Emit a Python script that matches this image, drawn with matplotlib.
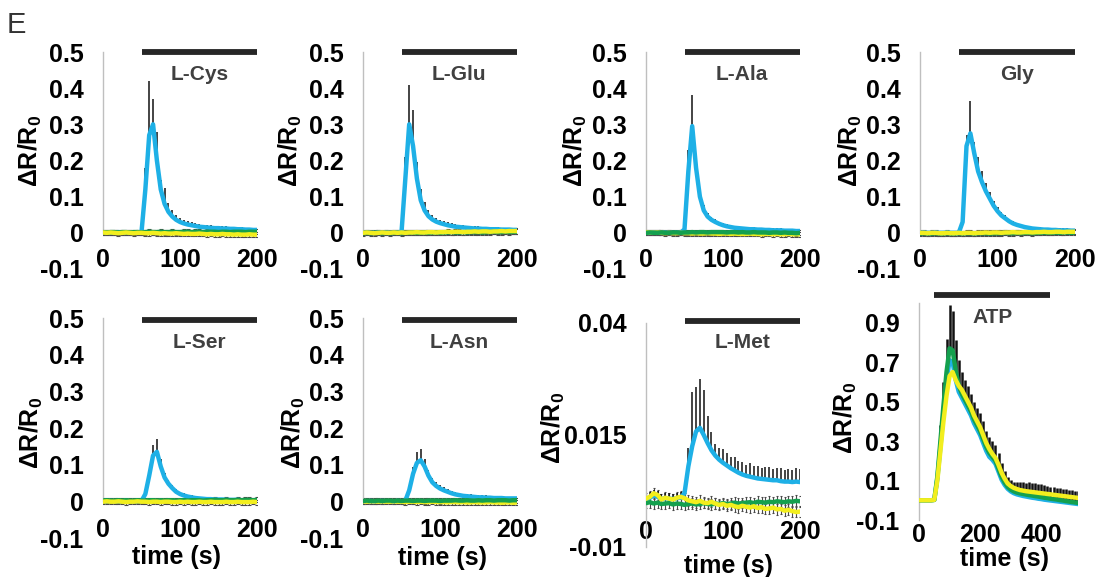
import numpy as np
import matplotlib
matplotlib.use("Agg")
import matplotlib.pyplot as plt

plt.rcParams['font.family'] = ['Liberation Sans', 'DejaVu Sans']
plt.rcParams['mathtext.fontset'] = 'custom'
plt.rcParams['mathtext.rm'] = 'Liberation Sans:bold'
plt.rcParams['mathtext.bf'] = 'Liberation Sans:bold'
plt.rcParams['mathtext.it'] = 'Liberation Sans:bold'
plt.rcParams['mathtext.default'] = 'bf'

# ---------------- data ----------------
T200 = np.arange(0, 201, 5)      # time (s), 200-s recordings
T_ATP = np.arange(0, 521, 10)    # time (s), ATP recording

CYS_B = [0.001,0.001,0.000,0.001,0.002,0.001,0.001,0.000,0.001,0.001,
         0.002,0.120,0.270,0.300,0.200,0.120,0.080,0.058,0.045,0.036,
         0.030,0.026,0.023,0.021,0.019,0.017,0.016,0.015,0.014,0.013,
         0.013,0.012,0.012,0.011,0.011,0.010,0.010,0.009,0.009,0.008,0.008]
CYS_E = [0.004,0.004,0.004,0.004,0.004,0.004,0.004,0.004,0.004,0.004,
         0.004,0.060,0.150,0.070,0.080,0.025,0.045,0.025,0.018,0.014,
         0.012,0.010,0.009,0.009,0.008,0.008,0.007,0.007,0.007,0.006,
         0.006,0.006,0.006,0.006,0.006,0.005,0.005,0.005,0.005,0.005,0.005]
CYS_Y = [0.001,0.000,0.001,0.000,-0.001,0.000,0.001,0.000,-0.001,0.000,
         0.000,-0.001,-0.001,0.000,-0.001,-0.002,-0.001,-0.002,-0.002,-0.001,
         -0.002,-0.003,-0.002,-0.003,-0.003,-0.002,-0.003,-0.004,-0.003,-0.004,
         -0.004,-0.003,-0.004,-0.004,-0.005,-0.004,-0.005,-0.005,-0.004,-0.005,-0.005]
CYS_G = [0.002,0.001,0.002,0.002,0.001,0.002,0.002,0.001,0.002,0.002,
         0.001,0.002,0.003,0.002,0.002,0.003,0.002,0.002,0.003,0.002,
         0.002,0.003,0.003,0.002,0.003,0.003,0.002,0.003,0.003,0.003,
         0.002,0.003,0.003,0.002,0.003,0.003,0.003,0.002,0.003,0.003,0.003]

GLU_B = [0.000,0.001,0.000,0.000,0.001,0.000,0.001,0.000,0.000,0.001,
         0.001,0.150,0.300,0.240,0.150,0.090,0.062,0.046,0.037,0.031,
         0.027,0.024,0.021,0.019,0.017,0.016,0.015,0.014,0.013,0.012,
         0.012,0.011,0.011,0.010,0.010,0.010,0.009,0.009,0.009,0.008,0.008]
GLU_E = [0.004,0.004,0.004,0.004,0.004,0.004,0.004,0.004,0.004,0.004,
         0.004,0.060,0.110,0.100,0.045,0.030,0.022,0.016,0.012,0.010,
         0.009,0.008,0.008,0.007,0.007,0.007,0.006,0.006,0.006,0.006,
         0.006,0.005,0.005,0.005,0.005,0.005,0.005,0.005,0.005,0.005,0.005]
GLU_Y = [0.000,0.001,0.000,-0.001,0.000,0.001,0.000,0.000,0.001,0.000,
         0.001,0.000,0.001,0.001,0.002,0.001,0.001,0.002,0.002,0.001,
         0.002,0.002,0.003,0.002,0.003,0.003,0.002,0.003,0.003,0.004,
         0.003,0.004,0.004,0.003,0.004,0.004,0.005,0.004,0.005,0.005,0.005]
GLU_G = [-0.001,0.000,-0.001,0.000,0.000,-0.001,0.000,-0.001,0.000,0.000,
         -0.001,0.000,0.000,0.001,0.000,0.000,0.001,0.000,0.001,0.001,
         0.000,0.001,0.001,0.002,0.001,0.001,0.002,0.001,0.002,0.002,
         0.002,0.001,0.002,0.002,0.003,0.002,0.002,0.003,0.002,0.003,0.003]

ALA_B = [0.000,0.000,0.001,0.000,0.000,0.001,0.000,0.000,0.001,0.000,
         0.010,0.170,0.295,0.180,0.100,0.062,0.045,0.036,0.030,0.025,
         0.021,0.018,0.016,0.014,0.013,0.012,0.011,0.010,0.010,0.009,
         0.009,0.008,0.008,0.007,0.007,0.007,0.006,0.006,0.006,0.005,0.005]
ALA_E = [0.004,0.004,0.004,0.004,0.004,0.004,0.004,0.004,0.004,0.004,
         0.006,0.060,0.085,0.030,0.020,0.014,0.010,0.008,0.007,0.006,
         0.006,0.006,0.006,0.005,0.005,0.005,0.005,0.005,0.005,0.005,
         0.005,0.005,0.005,0.005,0.005,0.005,0.005,0.005,0.005,0.005,0.005]
ALA_Y = [0.002,0.001,0.000,0.001,0.000,-0.001,0.000,-0.001,-0.001,0.000,
         -0.001,-0.001,-0.002,-0.001,-0.002,-0.002,-0.001,-0.002,-0.002,-0.003,
         -0.002,-0.002,-0.003,-0.002,-0.003,-0.003,-0.003,-0.002,-0.003,-0.003,
         -0.004,-0.003,-0.003,-0.004,-0.003,-0.004,-0.004,-0.003,-0.004,-0.004,-0.004]
ALA_G = [0.000,0.001,0.000,0.000,0.001,0.000,0.000,0.001,0.001,0.000,
         0.001,0.001,0.002,0.001,0.002,0.002,0.001,0.002,0.002,0.002,
         0.002,0.001,0.002,0.002,0.001,0.002,0.001,0.001,0.002,0.001,
         0.001,0.001,0.000,0.001,0.001,0.000,0.001,0.000,0.000,-0.001,0.000]

GLY_B = [0.000,0.001,0.000,0.000,0.001,0.000,0.000,0.001,0.000,0.000,
         0.000,0.030,0.240,0.275,0.220,0.170,0.140,0.115,0.095,0.075,
         0.060,0.048,0.040,0.032,0.026,0.022,0.019,0.016,0.014,0.012,
         0.011,0.010,0.009,0.009,0.008,0.008,0.007,0.007,0.007,0.006,0.006]
GLY_E = [0.004,0.004,0.004,0.004,0.004,0.004,0.004,0.004,0.004,0.004,
         0.004,0.020,0.030,0.090,0.030,0.040,0.030,0.022,0.017,0.013,
         0.011,0.009,0.008,0.007,0.007,0.006,0.006,0.006,0.005,0.005,
         0.005,0.005,0.005,0.005,0.005,0.005,0.005,0.005,0.005,0.005,0.005]
GLY_Y = [0.000,0.000,-0.001,0.000,0.000,-0.001,-0.001,0.000,-0.001,-0.001,
         0.000,-0.001,0.000,0.000,-0.001,0.000,0.000,0.001,0.000,0.001,
         0.001,0.000,0.001,0.001,0.002,0.001,0.001,0.002,0.002,0.001,
         0.002,0.002,0.003,0.002,0.002,0.003,0.003,0.002,0.003,0.003,0.003]
GLY_G = [-0.002,-0.001,-0.002,-0.002,-0.001,-0.002,-0.002,-0.001,-0.002,-0.002,
         -0.001,-0.002,-0.001,-0.001,-0.002,-0.001,-0.001,-0.001,-0.002,-0.001,
         -0.001,-0.001,0.000,-0.001,-0.001,0.000,-0.001,0.000,0.000,-0.001,
         0.000,0.000,0.001,0.000,0.000,0.001,0.000,0.001,0.001,0.000,0.001]

SER_B = [0.000,0.000,0.001,0.000,0.000,0.000,0.001,0.000,0.000,0.000,
         0.001,0.020,0.070,0.125,0.135,0.095,0.065,0.048,0.036,0.026,
         0.020,0.016,0.013,0.011,0.009,0.008,0.007,0.006,0.006,0.005,
         0.005,0.005,0.004,0.004,0.004,0.004,0.003,0.003,0.003,0.003,0.003]
SER_E = [0.004,0.004,0.004,0.004,0.004,0.004,0.004,0.004,0.004,0.004,
         0.004,0.008,0.015,0.030,0.035,0.020,0.012,0.010,0.008,0.007,
         0.006,0.006,0.005,0.005,0.005,0.005,0.005,0.005,0.005,0.005,
         0.005,0.005,0.005,0.005,0.005,0.005,0.005,0.005,0.005,0.005,0.005]
SER_Y = [-0.001,0.000,-0.001,-0.001,0.000,-0.001,-0.002,-0.001,-0.001,0.000,
         -0.001,-0.001,-0.002,-0.001,-0.001,-0.002,-0.001,-0.001,-0.002,-0.002,
         -0.001,-0.002,-0.001,-0.002,-0.002,-0.001,-0.002,-0.002,-0.001,-0.002,
         -0.002,-0.002,-0.001,-0.002,-0.002,-0.001,-0.002,-0.002,-0.002,-0.001,-0.002]
SER_G = [0.002,0.003,0.002,0.002,0.003,0.002,0.003,0.002,0.002,0.003,
         0.002,0.002,0.003,0.003,0.002,0.003,0.002,0.003,0.003,0.002,
         0.003,0.003,0.002,0.003,0.003,0.003,0.002,0.003,0.003,0.004,
         0.003,0.003,0.004,0.003,0.003,0.004,0.003,0.004,0.004,0.003,0.004]

ASN_B = [0.000,0.000,0.001,0.000,0.000,0.001,0.000,0.000,0.000,0.001,
         0.000,0.002,0.030,0.075,0.105,0.112,0.095,0.070,0.052,0.042,
         0.035,0.030,0.026,0.022,0.019,0.017,0.015,0.014,0.013,0.012,
         0.011,0.011,0.010,0.010,0.009,0.009,0.009,0.008,0.008,0.008,0.008]
ASN_E = [0.004,0.004,0.004,0.004,0.004,0.004,0.004,0.004,0.004,0.004,
         0.004,0.005,0.012,0.020,0.030,0.030,0.020,0.015,0.012,0.010,
         0.009,0.008,0.008,0.007,0.007,0.007,0.006,0.006,0.006,0.006,
         0.006,0.006,0.006,0.005,0.005,0.005,0.005,0.005,0.005,0.005,0.005]
ASN_Y = [0.000,-0.001,0.000,0.000,-0.001,0.000,-0.001,-0.001,0.000,-0.001,
         -0.001,-0.002,-0.001,-0.001,-0.002,-0.001,-0.002,-0.002,-0.001,-0.002,
         -0.002,-0.002,-0.003,-0.002,-0.002,-0.003,-0.002,-0.003,-0.003,-0.002,
         -0.003,-0.003,-0.003,-0.002,-0.003,-0.003,-0.004,-0.003,-0.003,-0.004,-0.003]
ASN_G = [0.001,0.002,0.001,0.001,0.002,0.001,0.002,0.002,0.001,0.002,
         0.001,0.002,0.002,0.001,0.002,0.002,0.001,0.002,0.002,0.002,
         0.001,0.002,0.002,0.002,0.003,0.002,0.002,0.003,0.002,0.002,
         0.003,0.002,0.003,0.003,0.002,0.003,0.003,0.003,0.002,0.003,0.003]

MET_B = [0.0008,0.0010,0.0015,0.0012,0.0007,0.0009,0.0008,0.0007,0.0009,0.0010,
         0.0020,0.0080,0.0125,0.0158,0.0166,0.0150,0.0132,0.0116,0.0104,0.0095,
         0.0088,0.0082,0.0076,0.0071,0.0066,0.0062,0.0059,0.0057,0.0055,0.0053,
         0.0052,0.0051,0.0050,0.0049,0.0049,0.0047,0.0046,0.0046,0.0045,0.0046,0.0045]
MET_E = [0.0012,0.0012,0.0012,0.0012,0.0012,0.0012,0.0012,0.0012,0.0012,0.0012,
         0.0015,0.0040,0.0120,0.0100,0.0110,0.0100,0.0060,0.0040,0.0025,0.0025,
         0.0030,0.0028,0.0025,0.0030,0.0026,0.0028,0.0025,0.0030,0.0026,0.0028,
         0.0025,0.0027,0.0029,0.0025,0.0028,0.0030,0.0026,0.0029,0.0027,0.0030,0.0028]
MET_Y = [0.0008,0.0012,0.0020,0.0016,0.0006,0.0010,0.0008,0.0006,0.0010,0.0012,
         0.0009,0.0004,0.0002,0.0000,0.0003,-0.0001,-0.0002,0.0001,-0.0003,-0.0006,
         -0.0004,-0.0008,-0.0006,-0.0009,-0.0011,-0.0008,-0.0010,-0.0012,-0.0009,-0.0013,
         -0.0011,-0.0015,-0.0014,-0.0012,-0.0016,-0.0015,-0.0019,-0.0017,-0.0020,-0.0022,-0.0021]
MET_G = [-0.0002,0.0000,-0.0003,-0.0001,-0.0004,-0.0003,-0.0002,-0.0005,-0.0003,-0.0004,
         -0.0006,-0.0004,-0.0003,-0.0005,-0.0004,-0.0002,-0.0004,-0.0005,-0.0003,-0.0004,
         -0.0002,-0.0004,-0.0003,-0.0001,-0.0003,-0.0002,-0.0001,0.0000,-0.0002,0.0001,
         0.0000,-0.0001,0.0001,0.0000,0.0002,0.0001,0.0000,0.0002,0.0001,0.0003,0.0002]

ATP_Y = [0.000,0.000,0.000,0.000,0.000,0.002,
         0.10,0.25,0.40,0.53,0.63,0.65,0.61,0.58,0.56,0.53,0.50,0.47,0.43,0.40,
         0.37,0.33,0.29,0.26,0.235,0.215,0.18,0.14,0.11,0.085,0.072,0.063,0.057,0.052,
         0.049,0.046,0.044,0.042,0.040,0.038,0.036,0.034,0.032,0.030,0.028,0.026,
         0.024,0.022,0.020,0.018,0.016,0.014,0.012]
ATP_G = [0.000,0.000,0.000,0.000,0.000,0.002,
         0.12,0.30,0.48,0.65,0.77,0.76,0.66,0.58,0.54,0.51,0.48,0.45,0.41,0.38,
         0.35,0.31,0.27,0.24,0.22,0.20,0.16,0.12,0.09,0.068,0.054,0.045,0.039,0.035,
         0.032,0.029,0.026,0.024,0.021,0.019,0.016,0.013,0.011,0.008,0.006,0.004,
         0.001,-0.001,-0.004,-0.006,-0.009,-0.011,-0.013]
ATP_B = [0.000,0.000,0.000,0.000,0.000,0.002,
         0.11,0.27,0.44,0.60,0.71,0.70,0.61,0.55,0.52,0.49,0.46,0.43,0.39,0.36,
         0.33,0.29,0.25,0.22,0.205,0.185,0.145,0.105,0.078,0.058,0.045,0.036,0.030,0.026,
         0.022,0.019,0.016,0.013,0.011,0.008,0.006,0.003,0.001,-0.001,-0.003,-0.005,
         -0.007,-0.009,-0.011,-0.013,-0.015,-0.017,-0.019]
ATP_E = [0.004,0.004,0.004,0.004,0.004,0.006,
         0.05,0.08,0.12,0.17,0.22,0.20,0.15,0.13,0.11,0.10,0.10,0.09,0.09,0.09,
         0.09,0.09,0.08,0.08,0.08,0.08,0.08,0.07,0.06,0.05,0.05,0.05,0.055,0.06,
         0.06,0.06,0.065,0.065,0.065,0.065,0.065,0.065,0.06,0.06,0.06,0.06,
         0.06,0.06,0.06,0.06,0.06,0.06,0.06]

NAMES = ['L-Cys', 'L-Glu', 'L-Ala', 'Gly', 'L-Ser', 'L-Asn', 'L-Met', 'ATP']
STIM = {'L-Cys': (50, 200), 'L-Glu': (50, 200), 'L-Ala': (50, 200), 'Gly': (50, 200),
        'L-Ser': (50, 200), 'L-Asn': (50, 200), 'L-Met': (50, 200), 'ATP': (50, 430)}
YTICKS_STD = [-0.1, 0, 0.1, 0.2, 0.3, 0.4, 0.5]
YTICKLABELS_STD = ['-0.1', '0', '0.1', '0.2', '0.3', '0.4', '0.5']
YTICKS_MET = [-0.01, 0.015, 0.04]
YTICKLABELS_MET = ['-0.01', '0.015', '0.04']
YTICKS_ATP = [-0.1, 0.1, 0.3, 0.5, 0.7, 0.9]
YTICKLABELS_ATP = ['-0.1', '0.1', '0.3', '0.5', '0.7', '0.9']
XTICKS_200 = [0, 100, 200]
XTICKS_ATP = [0, 200, 400]
BASE_SEM = 0.007
BASE_SEM_MET = 0.0012

PANELS = {
    'L-Cys': (T200, CYS_B, CYS_E, CYS_G, CYS_Y, None),
    'L-Glu': (T200, GLU_B, GLU_E, GLU_G, GLU_Y, None),
    'L-Ala': (T200, ALA_B, ALA_E, ALA_G, ALA_Y, None),
    'Gly':   (T200, GLY_B, GLY_E, GLY_G, GLY_Y, None),
    'L-Ser': (T200, SER_B, SER_E, SER_G, SER_Y, None),
    'L-Asn': (T200, ASN_B, ASN_E, ASN_G, ASN_Y, None),
    'L-Met': (T200, MET_B, MET_E, MET_G, MET_Y, None),
    'ATP':   (T_ATP, ATP_B, None, ATP_G, ATP_Y, ATP_E),
}

# ---------------- layout (pixels) ----------------
W, H = 1099, 577
BLUE, GREEN, YELLOW = '#1EB0E6', '#14A04E', '#F2EE1E'
LAYOUT = {
    'L-Cys': dict(l=103, t=52, b=269, w=154, yl=(30, 151), xl=None, xpad=11, bar=1.0, gtop=False),
    'L-Glu': dict(l=363, t=52, b=269, w=154, yl=(290, 151), xl=None, xpad=11, bar=1.0, gtop=False),
    'L-Ala': dict(l=646, t=52, b=269, w=154, yl=(575, 151), xl=None, xpad=11, bar=1.0, gtop=True),
    'Gly':   dict(l=920, t=52, b=269, w=155, yl=(850, 151), xl=None, xpad=11, bar=1.0, gtop=False),
    'L-Ser': dict(l=103, t=318, b=538, w=154, yl=(31, 433), xl=(177, 557), xpad=12, bar=0.99, gtop=False),
    'L-Asn': dict(l=363, t=318, b=538, w=154, yl=(293, 433), xl=(442, 558), xpad=12, bar=0.99, gtop=True),
    'L-Met': dict(l=646, t=323, b=547, w=154, yl=(553, 428), xl=(728, 566), xpad=13, bar=1.01, gtop=False),
    'ATP':   dict(l=919, t=303, b=520, w=159, yl=(845, 418), xl=(1004, 559), xpad=2, bar=1.035, gtop=False),
}

fig = plt.figure(figsize=(W / 100, H / 100), dpi=100)
fig.text(7 / W, 1 - 33 / H, 'E', fontsize=21, color='#333333', ha='left', va='baseline')

for name in NAMES:
    L = LAYOUT[name]
    t, blue, blue_err, green, yellow, green_err = PANELS[name]
    ax = fig.add_axes([L['l'] / W, 1 - L['b'] / H, L['w'] / W, (L['b'] - L['t']) / H])
    ax.set_facecolor('none')

    if name == 'ATP':
        ylim, yt, ytl, xt, xlim = (-0.1, 1.0), YTICKS_ATP, YTICKLABELS_ATP, XTICKS_ATP, (0, 520)
    elif name == 'L-Met':
        ylim, yt, ytl, xt, xlim = (-0.01, 0.04), YTICKS_MET, YTICKLABELS_MET, XTICKS_200, (0, 200)
    else:
        ylim, yt, ytl, xt, xlim = (-0.1, 0.5), YTICKS_STD, YTICKLABELS_STD, XTICKS_200, (0, 200)

    # spines first (moving a spine resets tick formatting)
    for s in ('top', 'right'):
        ax.spines[s].set_visible(False)
    if name != 'ATP':
        ax.spines['bottom'].set_position(('data', 0))
    ax.spines['bottom'].set_color('none')
    ax.spines['left'].set_color('#BFBFBF')
    ax.spines['left'].set_linewidth(1.0)

    t = np.asarray(t)
    blue = np.asarray(blue)
    green = np.asarray(green)
    yellow = np.asarray(yellow)

    if name == 'ATP':
        ge = np.asarray(green_err)
        ax.errorbar(t, green, yerr=[np.zeros_like(ge), ge], fmt='none', ecolor='#111111',
                    elinewidth=1.8, capsize=0, zorder=1)
    else:
        sem = BASE_SEM_MET if name == 'L-Met' else BASE_SEM
        cap = 0.8 if name == 'L-Met' else 1.3
        for base in (green, yellow):
            ax.errorbar(t, base, yerr=sem, fmt='none', ecolor='#4a4a4a',
                        elinewidth=0.8, capsize=cap, capthick=0.8, zorder=1)
        be = np.asarray(blue_err)
        ax.errorbar(t, blue, yerr=[np.zeros_like(be), be], fmt='none', ecolor='#111111',
                    elinewidth=1.1, capsize=0, zorder=2)

    ax.plot(t, blue, color=BLUE, lw=3.2, zorder=3, solid_joinstyle='round')
    gz, yz = (5, 4) if L['gtop'] else (4, 5)
    ax.plot(t, green, color=GREEN, lw=3.2, zorder=gz, solid_joinstyle='round')
    ax.plot(t, yellow, color=YELLOW, lw=3.2, zorder=yz, solid_joinstyle='round')

    ax.set_xlim(*xlim)
    ax.set_ylim(*ylim)
    ax.set_yticks(yt)
    ax.set_yticklabels(ytl, fontsize=18, fontweight='bold')
    ax.set_xticks(xt)
    ax.set_xticklabels([str(v) for v in xt], fontsize=18, fontweight='bold')
    ax.tick_params(axis='both', length=0)
    ax.tick_params(axis='y', pad=14)
    ax.tick_params(axis='x', pad=L['xpad'])

    if name in ('L-Met', 'ATP'):
        ax.spines['left'].set_bounds(ylim[0], ylim[1])
    else:
        ax.spines['left'].set_bounds(0, ylim[1])

    # stimulus bar and label
    s0, s1 = STIM[name]
    tr = ax.get_xaxis_transform()
    ax.plot([s0, s1], [L['bar'], L['bar']], transform=tr, color='#262626', lw=4.2,
            solid_capstyle='butt', clip_on=False, zorder=6)
    ax.annotate(name, xy=((s0 + s1) / 2, L['bar']), xycoords=tr, xytext=(0, -9),
                textcoords='offset points', ha='center', va='top', fontsize=15,
                fontweight='bold', color='#404040')

    # axis titles
    yx, yy = L['yl']
    fig.text(yx / W, 1 - yy / H, 'ΔR/R$_0$', rotation=90, ha='center', va='center',
             fontsize=18, fontweight='bold')
    if L['xl'] is not None:
        xx, xy = L['xl']
        fig.text(xx / W, 1 - xy / H, 'time (s)', ha='center', va='center',
                 fontsize=18, fontweight='bold')

fig.savefig('out.png', dpi=100)
